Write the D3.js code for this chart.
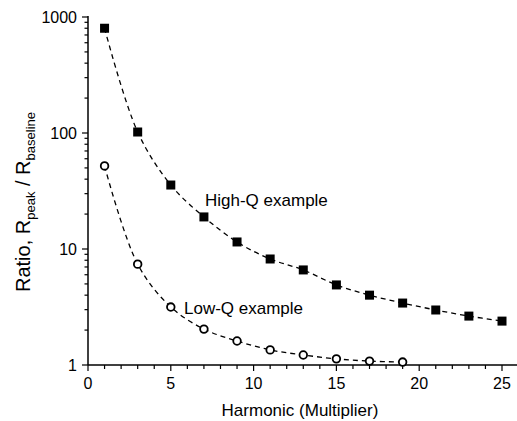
<!DOCTYPE html>
<html>
<head>
<meta charset="utf-8">
<script src="https://cdn.jsdelivr.net/npm/d3@7"></script>
<style>
  html, body { margin: 0; padding: 0; background: #fff; }
  text { font-family: "Liberation Sans", Arial, sans-serif; fill: #000; }
</style>
</head>
<body>
<svg id="chart" width="517" height="421"></svg>
<script>
// Harmonic numbers and peak/baseline ratios
const highQHarmonics = [1, 3, 5, 7, 9, 11, 13, 15, 17, 19, 21, 23, 25];
const highQRatios = [800, 102, 35.6, 18.9, 11.5, 8.2, 6.6, 4.9, 4.0, 3.42, 2.98, 2.64, 2.39];
const lowQHarmonics = [1, 3, 5, 7, 9, 11, 13, 15, 17, 19];
const lowQRatios = [52, 7.4, 3.16, 2.04, 1.61, 1.35, 1.22, 1.13, 1.08, 1.06];
const xTickValues = [0, 5, 10, 15, 20, 25];
const yTickValues = [1, 10, 100, 1000];
const seriesLabels = ["High-Q example", "Low-Q example"];

const svg = d3.select("#chart");
const plotLeft = 88, plotBottom = 365, plotTop = 17;

const x = d3.scaleLinear().domain([0, 25]).range([plotLeft, 502]);
const y = d3.scaleLog().domain([1, 1000]).range([plotBottom, plotTop]);

// Axes
const xAxis = svg.append("g").attr("transform", `translate(0,${plotBottom})`);
xAxis.append("line").attr("x1", plotLeft).attr("x2", 517).attr("y1", 0).attr("y2", 0)
  .attr("stroke", "#000").attr("stroke-width", 1.5);
d3.range(0, 27).forEach(v => {
  xAxis.append("line").attr("x1", x(v)).attr("x2", x(v)).attr("y1", 0)
    .attr("y2", v % 5 === 0 ? 6 : 4).attr("stroke", "#000").attr("stroke-width", 1.2);
});
xTickValues.forEach(v => {
  xAxis.append("text").attr("x", x(v)).attr("y", 24).attr("text-anchor", "middle")
    .attr("font-size", 16).text(v);
});

const yAxis = svg.append("g");
yAxis.append("line").attr("x1", plotLeft).attr("x2", plotLeft).attr("y1", plotTop - 1).attr("y2", plotBottom)
  .attr("stroke", "#000").attr("stroke-width", 1.5);
const minorY = [];
[1, 10, 100].forEach(d => { for (let k = 2; k <= 9; k++) minorY.push(d * k); });
minorY.forEach(v => {
  yAxis.append("line").attr("x1", plotLeft - 3.5).attr("x2", plotLeft).attr("y1", y(v)).attr("y2", y(v))
    .attr("stroke", "#000").attr("stroke-width", 1.2);
});
yTickValues.forEach(v => {
  yAxis.append("line").attr("x1", plotLeft - 6).attr("x2", plotLeft).attr("y1", y(v)).attr("y2", y(v))
    .attr("stroke", "#000").attr("stroke-width", 1.2);
  yAxis.append("text").attr("x", plotLeft - 11).attr("y", y(v)).attr("dy", "0.35em")
    .attr("text-anchor", "end").attr("font-size", 16).text(v);
});

// Axis titles
svg.append("text").attr("x", 300).attr("y", 416).attr("text-anchor", "middle")
  .attr("font-size", 17).text("Harmonic (Multiplier)");
const yt = svg.append("text").attr("transform", "translate(30,202) rotate(-90)")
  .attr("text-anchor", "middle").attr("font-size", 20);
yt.append("tspan").text("Ratio, R");
yt.append("tspan").attr("font-size", 13).attr("dy", 5).text("peak");
yt.append("tspan").attr("dy", -5).text(" / R");
yt.append("tspan").attr("font-size", 13).attr("dy", 5).text("baseline");

// Dashed smooth curves through the points
const line = d3.line().x(d => x(d[0])).y(d => y(d[1])).curve(d3.curveCatmullRom.alpha(0.5));
const highQ = highQHarmonics.map((h, i) => [h, highQRatios[i]]);
const lowQ = lowQHarmonics.map((h, i) => [h, lowQRatios[i]]);
[highQ, lowQ].forEach(data => {
  svg.append("path").datum(data).attr("d", line).attr("fill", "none")
    .attr("stroke", "#000").attr("stroke-width", 1.3).attr("stroke-dasharray", "5,4");
});

// Markers
svg.selectAll("rect.hq").data(highQ).enter().append("rect")
  .attr("x", d => x(d[0]) - 4.5).attr("y", d => y(d[1]) - 4.5)
  .attr("width", 9).attr("height", 9).attr("fill", "#000");
svg.selectAll("circle.lq").data(lowQ).enter().append("circle")
  .attr("cx", d => x(d[0])).attr("cy", d => y(d[1])).attr("r", 3.8)
  .attr("fill", "#fff").attr("stroke", "#000").attr("stroke-width", 1.8);

// Series labels
svg.append("text").attr("x", 205).attr("y", 206).attr("font-size", 17).text(seriesLabels[0]);
svg.append("text").attr("x", 184).attr("y", 314).attr("font-size", 17).text(seriesLabels[1]);
</script>
</body>
</html>
